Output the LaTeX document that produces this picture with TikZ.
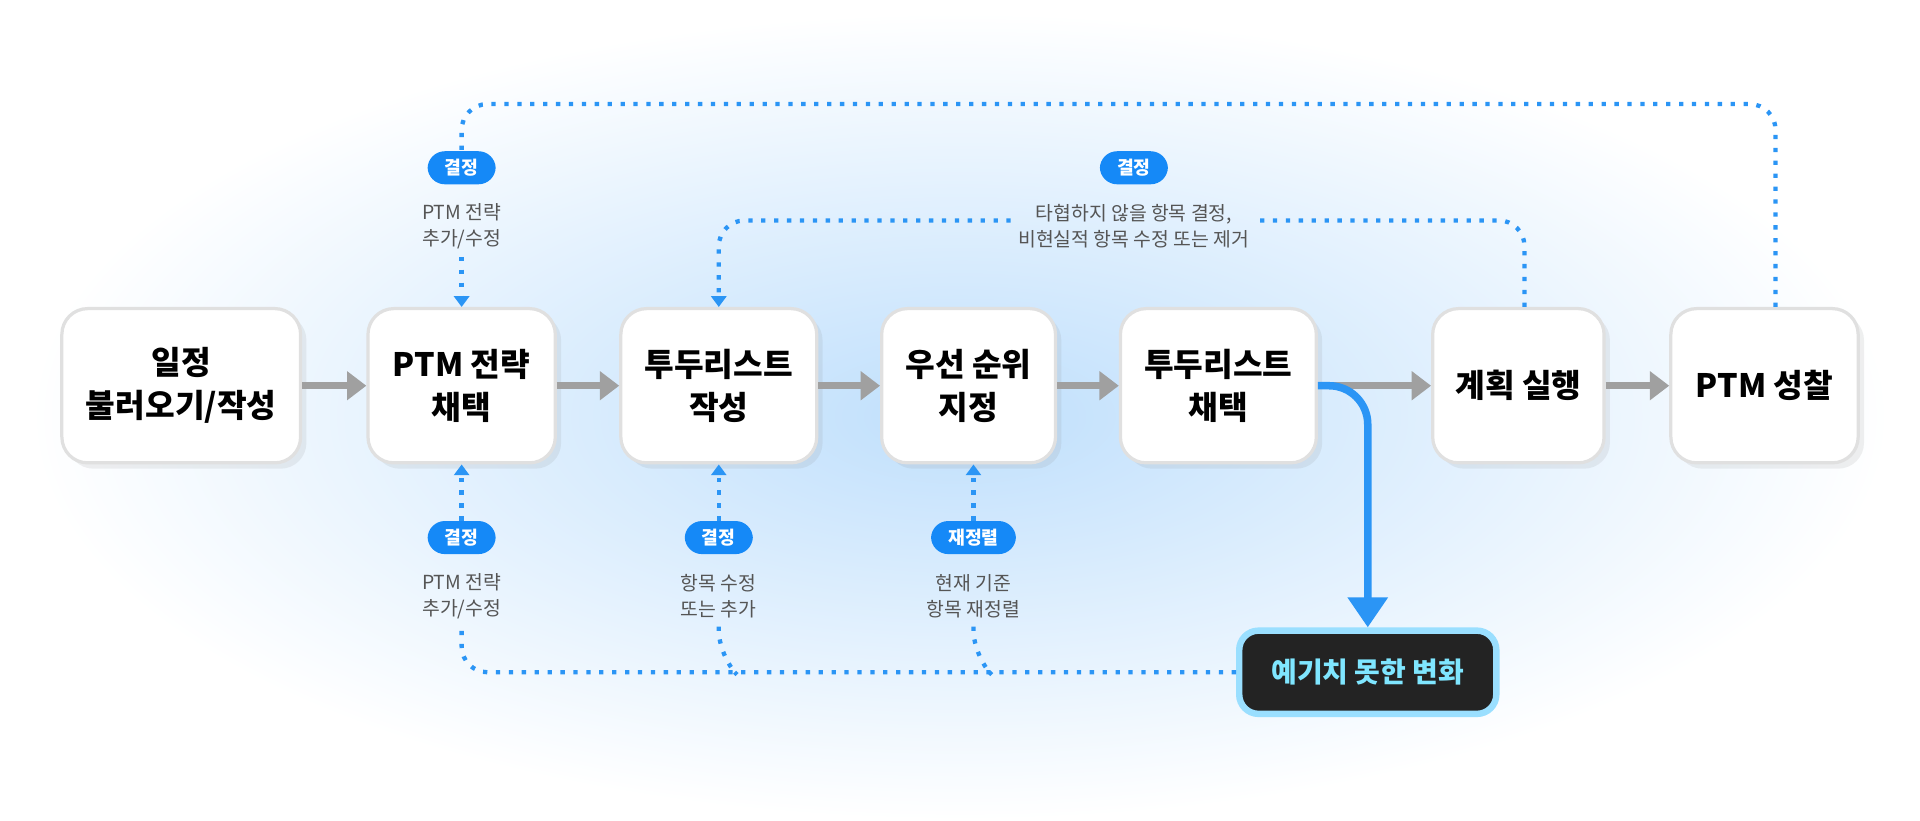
\documentclass[tikz,border=0pt]{standalone}
\usepackage{fontspec}
\setmainfont{Noto Sans CJK KR}
\usetikzlibrary{arrows.meta,shadows}
\definecolor{flowblue}{HTML}{2B95F5}
\definecolor{pillblue}{HTML}{1589F7}
\definecolor{flowgray}{HTML}{A0A0A0}
\definecolor{darkbox}{HTML}{232323}
\definecolor{cyanline}{HTML}{9ADFFF}
\definecolor{cyantext}{HTML}{7FE6FF}
\definecolor{labelgray}{HTML}{555555}
\begin{document}
\begin{tikzpicture}[x=0.02cm, y=-0.02cm,
  stage/.style={draw=black!12, line width=1.5pt, fill=white, rounded corners=12pt, align=center,
    font=\fontsize{15}{20}\selectfont\bfseries, minimum height=2.52cm, drop shadow={opacity=0.12}},
  pill/.style={fill=pillblue, text=white, rounded corners=8pt, inner xsep=8pt, inner ysep=3pt, minimum height=0.54cm,
    font=\fontsize{8.5}{9}\selectfont\bfseries},
  note/.style={align=center, text=labelgray, font=\fontsize{9}{12}\selectfont},
  grayarrow/.style={-{Triangle[length=9pt,width=13pt]}, flowgray, line width=3pt},
  dotarrow/.style={flowblue, line width=2pt, dotted, dash pattern=on 2pt off 4pt, rounded corners=12pt},
  dottip/.style={-{Triangle[length=5pt,width=7pt]}}]
  \useasboundingbox (0,0) rectangle (1568,670);
  \shade[inner color=flowblue!30, outer color=white] (784,340) ellipse (760 and 330);

  \node[stage, minimum width=3.9cm] (plan) at (148,315) {일정\\불러오기/작성};
  \node[stage, minimum width=3.06cm] (ptm) at (377,315) {PTM 전략\\채택};
  \node[stage, minimum width=3.2cm] (todo) at (587,315) {투두리스트\\작성};
  \node[stage, minimum width=2.84cm] (prio) at (791,315) {우선 순위\\지정};
  \node[stage, minimum width=3.2cm] (pick) at (995,315) {투두리스트\\채택};
  \node[stage, minimum width=2.8cm] (run) at (1240,315) {계획 실행};
  \node[stage, minimum width=3.06cm] (refl) at (1441,315) {PTM 성찰};
  \node[fill=darkbox, draw=cyanline, line width=3pt, rounded corners=9pt, text=cyantext,
    minimum width=4.2cm, minimum height=1.36cm, font=\fontsize{13}{16}\selectfont\bfseries]
    (change) at (1117,549) {예기치 못한 변화};

  % main flow
  \draw[grayarrow] (plan) -- (ptm);
  \draw[grayarrow] (ptm) -- (todo);
  \draw[grayarrow] (todo) -- (prio);
  \draw[grayarrow] (prio) -- (pick);
  \draw[grayarrow] (pick) -- (run);
  \draw[grayarrow] (run) -- (refl);
  \draw[flowblue, line width=3.5pt, rounded corners=18pt, -{Triangle[length=14pt,width=18pt]}]
    (pick.east) -- (1117,315) -- (change.north);

  % top loops
  \node[pill] (d1) at (377,137) {결정};
  \node[note] (n1) at (377,185) {PTM 전략\\추가/수정};
  \draw[dotarrow] (refl.north -| 1450,0) -- (1450,85) -- (377,85) -- (d1.north);
  \draw[dotarrow, dottip] (n1.south) -- (ptm.north);
  \node[pill] (d2) at (926,137) {결정};
  \node[note] (n2) at (926,185) {타협하지 않을 항목 결정,\\비현실적 항목 수정 또는 제거};
  \coordinate (t2) at (1245,180);
  \draw[dotarrow] (run.north -| t2) -- (t2) -- (n2.east |- t2);
  \draw[dotarrow, dottip] (n2.west |- t2) -- (587,180) -- (todo.north);

  % bottom loops
  \node[pill] (d3) at (377,439) {결정};
  \node[note] (n3) at (377,487) {PTM 전략\\추가/수정};
  \node[pill] (d4) at (587,439) {결정};
  \node[note] (n4) at (587,487) {항목 수정\\또는 추가};
  \node[pill] (d5) at (795,439) {재정렬};
  \node[note] (n5) at (795,487) {현재 기준\\항목 재정렬};
  \draw[dotarrow] (change.west) -- (377,549) -- (n3.south);
  \draw[dotarrow] (600,549) -- (587,536) -- (n4.south);
  \draw[dotarrow] (808,549) -- (795,536) -- (n5.south);
  \draw[dotarrow, dottip] (d3.north) -- (ptm.south);
  \draw[dotarrow, dottip] (d4.north) -- (todo.south);
  \draw[dotarrow, dottip] (d5.north) -- (prio.south -| d5);
\end{tikzpicture}
\end{document}
